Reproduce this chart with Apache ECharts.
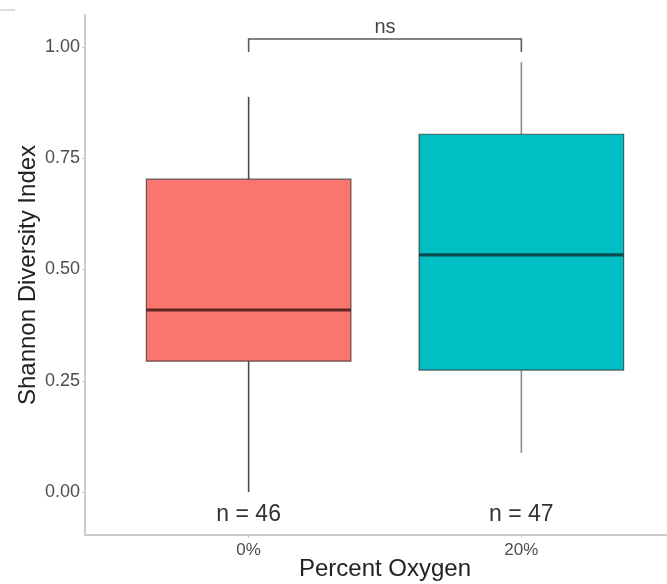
<!DOCTYPE html>
<html>
<head>
<meta charset="utf-8">
<title>Shannon Diversity by Percent Oxygen</title>
<script src="https://cdn.jsdelivr.net/npm/echarts@6/dist/echarts.min.js"></script>
<style>
  html, body { margin: 0; padding: 0; background: #ffffff; }
  #chart { width: 667px; height: 584px; }
</style>
</head>
<body>
<div id="chart"></div>
<script>
// Groups and five-number summaries of the Shannon index
const categories = ['0%', '20%'];
const whiskerLow = [0.000, 0.088];
const lowerQuartile = [0.294, 0.274];
const medians = [0.409, 0.533];
const upperQuartile = [0.703, 0.804];
const whiskerHigh = [0.888, 0.966];
const sampleSizes = [46, 47];
const yTicks = [0, 0.25, 0.5, 0.75, 1.0];
const comparisonLabel = 'ns';

const fillColors = ['#F8766D', '#00BFC4'];
const whiskerColors = ['#4a4a4a', '#8c8c8c'];
const medianColors = ['rgba(60,20,18,0.8)', 'rgba(10,50,52,0.8)'];

const font = 'Liberation Sans, Arial, Helvetica, sans-serif';

// Positions 1 and 2 on a continuous x scale, like a discrete axis with padding
const boxData = categories.map((c, i) => [
  i + 1, whiskerLow[i], lowerQuartile[i], medians[i], upperQuartile[i], whiskerHigh[i], sampleSizes[i]
]);

function renderBox(params, api) {
  const i = params.dataIndex;
  const x = api.value(0);
  const half = api.size([0.75, 0])[0] / 2;
  const pLow = api.coord([x, api.value(1)]);
  const pQ1 = api.coord([x, api.value(2)]);
  const pMed = api.coord([x, api.value(3)]);
  const pQ3 = api.coord([x, api.value(4)]);
  const pHigh = api.coord([x, api.value(5)]);
  const pN = api.coord([x, -0.05]);
  return {
    type: 'group',
    children: [
      { type: 'line', shape: { x1: pHigh[0], y1: pHigh[1], x2: pQ3[0], y2: pQ3[1] },
        style: { stroke: whiskerColors[i], lineWidth: 1.6 } },
      { type: 'line', shape: { x1: pQ1[0], y1: pQ1[1], x2: pLow[0], y2: pLow[1] },
        style: { stroke: whiskerColors[i], lineWidth: 1.6 } },
      { type: 'rect', shape: { x: pQ3[0] - half, y: pQ3[1], width: half * 2, height: pQ1[1] - pQ3[1] },
        style: { fill: fillColors[i], stroke: 'rgba(40,40,40,0.7)', lineWidth: 1.2 } },
      { type: 'line', shape: { x1: pMed[0] - half, y1: pMed[1], x2: pMed[0] + half, y2: pMed[1] },
        style: { stroke: medianColors[i], lineWidth: 3.2 } },
      { type: 'text', x: pN[0], y: pN[1],
        style: { text: 'n = ' + api.value(6), fill: '#333333', font: '23px ' + font,
                 align: 'center', verticalAlign: 'middle' } }
    ]
  };
}

// Significance bracket between the two groups
const bracketData = [[1, 2, 1.018, 0.989]];

function renderBracket(params, api) {
  const a = api.coord([api.value(0), api.value(3)]);
  const b = api.coord([api.value(0), api.value(2)]);
  const c = api.coord([api.value(1), api.value(2)]);
  const d = api.coord([api.value(1), api.value(3)]);
  return {
    type: 'group',
    children: [
      { type: 'polyline', shape: { points: [a, b, c, d] },
        style: { stroke: '#5a5a5a', lineWidth: 1.6, fill: null } },
      { type: 'text', x: (b[0] + c[0]) / 2, y: b[1] - 12,
        style: { text: comparisonLabel, fill: '#444444', font: '20px ' + font,
                 align: 'center', verticalAlign: 'middle' } }
    ]
  };
}

const chart = echarts.init(document.getElementById('chart'), null, { renderer: 'canvas' });

chart.setOption({
  animation: false,
  backgroundColor: '#ffffff',
  // The plotting panel runs past the right edge of the page
  grid: { left: 85, top: 15, width: 600, height: 520, containLabel: false, outerBoundsMode: 'none' },
  xAxis: {
    type: 'value',
    min: 0.4,
    max: 2.6,
    name: 'Percent Oxygen',
    nameLocation: 'middle',
    nameGap: 22,
    nameMoveOverlap: false,
    nameTextStyle: { color: '#222222', fontSize: 24, fontFamily: font },
    axisLine: { show: true, onZero: false, lineStyle: { color: '#cccccc', width: 2 } },
    axisTick: { show: true, customValues: [1, 2], length: 3, lineStyle: { color: '#cccccc' } },
    axisLabel: {
      customValues: [1, 2],
      formatter: v => categories[Math.round(v) - 1],
      color: '#4d4d4d', fontSize: 17, fontFamily: font, margin: 7
    },
    splitLine: { show: false }
  },
  yAxis: {
    type: 'value',
    min: -0.0966,
    max: 1.072,
    name: 'Shannon Diversity Index',
    nameLocation: 'middle',
    nameGap: 45,
    nameMoveOverlap: false,
    nameTextStyle: { color: '#222222', fontSize: 24, fontFamily: font },
    axisLine: { show: true, onZero: false, lineStyle: { color: '#cccccc', width: 2 } },
    axisTick: { show: true, customValues: yTicks, length: 3, lineStyle: { color: '#cccccc' } },
    axisLabel: {
      customValues: yTicks,
      formatter: v => v.toFixed(2),
      color: '#4d4d4d', fontSize: 18, fontFamily: font, margin: 5
    },
    splitLine: { show: false }
  },
  graphic: [
    { type: 'line', shape: { x1: 0, y1: 10, x2: 15, y2: 10 },
      style: { stroke: '#dddddd', lineWidth: 2 } }
  ],
  series: [
    { type: 'custom', name: 'boxes', renderItem: renderBox, data: boxData,
      encode: { x: 0, y: [1, 5] }, clip: false },
    { type: 'custom', name: 'bracket', renderItem: renderBracket, data: bracketData,
      encode: { x: [0, 1], y: [2, 3] }, clip: false }
  ]
});
</script>
</body>
</html>
